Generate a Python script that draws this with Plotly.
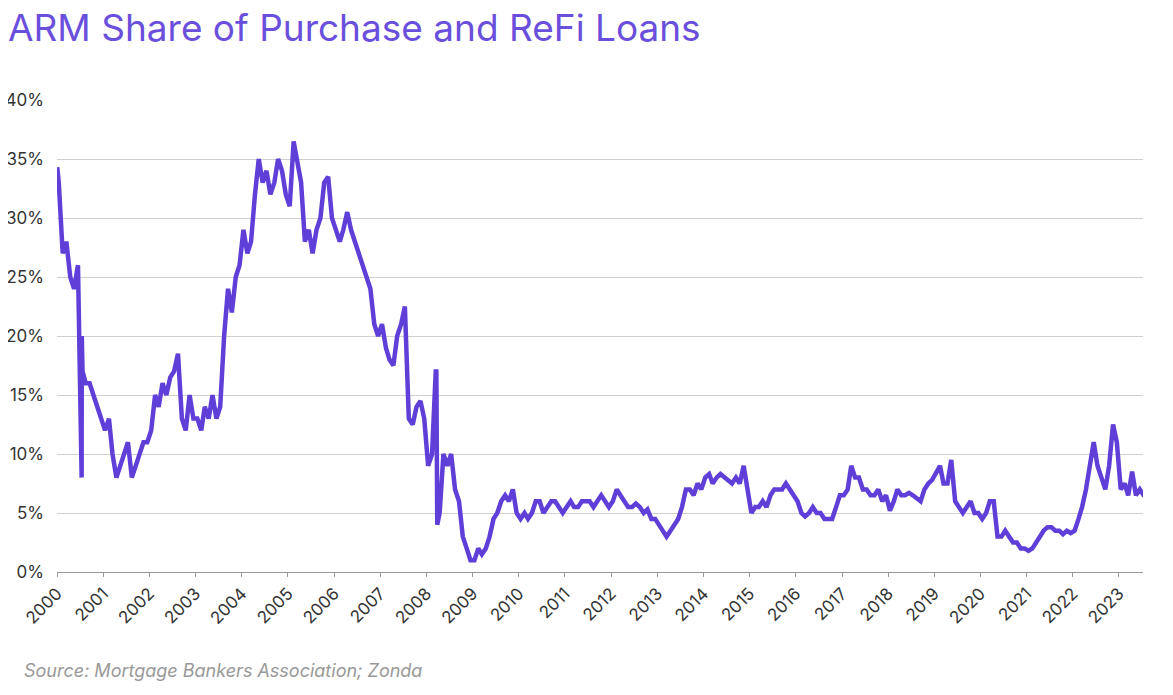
import plotly.graph_objects as go
import pandas as pd

title = "ARM Share of Purchase and ReFi Loans"
source = "Source: Mortgage Bankers Association; Zonda"

monthly = {
    2000: [33, 27, 28, 25, 24, 26, 20, 16, 16, 15, 14, 13],
    2001: [12, 13, 10, 8, 9, 10, 11, 8, 9, 10, 11, 11],
    2002: [12, 15, 14, 16, 15, 16.5, 17, 18.5, 13, 12, 15, 13],
    2003: [13, 12, 14, 13, 15, 13, 14, 20, 24, 22, 25, 26],
    2004: [29, 27, 28, 32, 35, 33, 34, 32, 33, 35, 34, 32],
    2005: [31, 36.5, 35, 33, 28, 29, 27, 29, 30, 33, 33.5, 30],
    2006: [29, 28, 29, 30.5, 29, 28, 27, 26, 25, 24, 21, 20],
    2007: [21, 19, 18, 17.5, 20, 21, 22.5, 13, 12.5, 14, 14.5, 13],
    2008: [9, 10, 17, 5, 10, 9, 10, 7, 6, 3, 2, 1],
    2009: [1, 2, 1.5, 2, 3, 4.5, 5, 6, 6.5, 6, 7, 5],
    2010: [4.5, 5, 4.5, 5, 6, 6, 5, 5.5, 6, 6, 5.5, 5],
    2011: [5.5, 6, 5.5, 5.5, 6, 6, 6, 5.5, 6, 6.5, 6, 5.5],
    2012: [6, 7, 6.5, 6, 5.5, 5.5, 5.8, 5.5, 5, 5.3, 4.5, 4.5],
    2013: [4, 3.5, 3, 3.5, 4, 4.5, 5.5, 7, 7, 6.5, 7.5, 7],
    2014: [8, 8.3, 7.5, 8, 8.3, 8, 7.8, 7.5, 8, 7.5, 9, 7],
    2015: [5, 5.5, 5.5, 6, 5.5, 6.5, 7, 7, 7, 7.5, 7, 6.5],
    2016: [6, 5, 4.7, 5, 5.5, 5, 5, 4.5, 4.5, 4.5, 5.5, 6.5],
    2017: [6.5, 7, 9, 8, 8, 7, 7, 6.5, 6.5, 7, 6, 6.5],
    2018: [5.2, 6, 7, 6.5, 6.5, 6.7, 6.5, 6.3, 6, 7, 7.5, 7.8],
    2019: [8.5, 9, 7.5, 7.5, 9.5, 6, 5.5, 5, 5.5, 6, 5, 5],
    2020: [4.5, 5, 6, 6, 3, 3, 3.5, 3, 2.5, 2.5, 2, 2],
    2021: [1.8, 2, 2.5, 3, 3.5, 3.8, 3.8, 3.5, 3.5, 3.2, 3.5, 3.3],
    2022: [3.5, 4.5, 5.5, 7, 9, 11, 9, 8, 7, 9, 12.5, 11],
    2023: [7, 7.5, 6.5, 8.5, 6.5, 7, 6.5, 6.2],
}
extra_dates = ["2000-01-03", "2000-07-14", "2000-07-21", "2008-03-20", "2008-03-27"]
extra_vals = [34.3, 8, 17, 17, 4]

dates, vals = [], []
for y, arr in monthly.items():
    for m, v in enumerate(arr):
        dates.append(pd.Timestamp(y, m + 1, 15))
        vals.append(v)
dates += [pd.Timestamp(d) for d in extra_dates]
vals += extra_vals
df = pd.DataFrame({"d": dates, "v": vals}).sort_values("d")

purple = "#5f3fd8"
fig = go.Figure(go.Scatter(x=df["d"], y=df["v"] / 100, mode="lines",
                           line=dict(color=purple, width=4.5), hoverinfo="skip"))
fig.update_layout(
    width=1157, height=679, plot_bgcolor="white", paper_bgcolor="white",
    margin=dict(l=49, r=22, t=92, b=115, autoexpand=False),
    font=dict(family="Inter", color="#333", size=17),
    title=dict(text=title, x=0.0, xref="container", xanchor="left",
               y=0.97, yanchor="middle",
               font=dict(size=37, color="#6a4fdc", family="Inter")),
    showlegend=False,
)
fig.update_xaxes(range=[pd.Timestamp("2000-01-01"), pd.Timestamp("2023-07-10")],
                 tickvals=[pd.Timestamp(y, 1, 1) for y in range(2000, 2024)],
                 ticktext=[str(y) for y in range(2000, 2024)],
                 tickangle=-45, showgrid=False, showline=True, linecolor="#999",
                 ticks="outside", tickcolor="#999", ticklen=4, automargin=False)
fig.update_yaxes(range=[0, 0.4], dtick=0.05, tickformat=".0%", gridcolor="#d0d0d0",
                 zeroline=False, ticks="", ticklabelstandoff=12, automargin=False)
fig.add_annotation(text=source, xref="paper", yref="paper", x=-0.032, y=-0.208,
                   xanchor="left", yanchor="middle", showarrow=False,
                   font=dict(size=18, color="#999", family="Inter", style="italic"))
fig.write_html("out.html")
